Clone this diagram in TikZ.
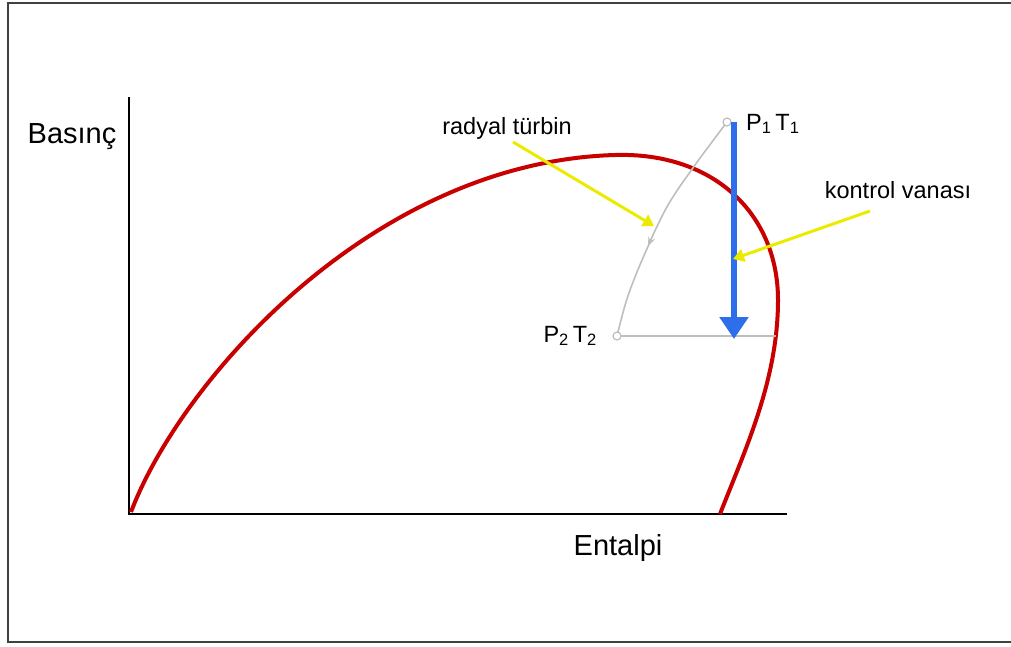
\documentclass[tikz,border=0pt]{standalone}
\usepackage{fontspec}
\setmainfont{Liberation Sans}
\usetikzlibrary{arrows.meta}
\definecolor{satred}{RGB}{200,0,0}
\definecolor{arrblue}{RGB}{45,110,235}
\definecolor{yel}{RGB}{235,235,0}
\definecolor{procgray}{RGB}{190,190,190}
\begin{document}
\begin{tikzpicture}[x=1pt,y=-1pt,
  frame/.style={draw=black!75,line width=2pt},
  axis/.style={draw=black,line width=2pt},
  sat/.style={draw=satred,line width=4pt},
  proc/.style={draw=procgray,line width=1.6pt},
  statept/.style={circle,draw=procgray,fill=white,line width=1.2pt,inner sep=0pt,minimum size=8pt},
  bigtxt/.style={font=\fontsize{29}{32}\selectfont,inner sep=0pt},
  smalltxt/.style={font=\fontsize{23.5}{26}\selectfont,inner sep=0pt},
  yarrow/.style={draw=yel,line width=3pt,-{Triangle[length=11pt,width=13pt]}},
  barrow/.style={draw=arrblue,line width=6pt,-{Triangle[length=22pt,width=28pt]}}]
\useasboundingbox (0,0) rectangle (1011,646);
% frame (left, top, bottom)
\draw[frame] (1011,3) -- (8,3) -- (8,642) -- (1011,642);
% axes
\coordinate (O) at (129,514);
\coordinate (Ytop) at (129,97);
\coordinate (Xend) at (787,514);
\draw[axis] (Ytop) -- (O) -- (Xend);
\node[bigtxt] (basinc) at (72,137) {Basınç};
\node[bigtxt] (entalpi) at (618,548) {Entalpi};
% saturation dome
\coordinate (S0) at (131,512);
\coordinate (Top) at (615,155);
\coordinate (Right) at (778,300);
\coordinate (S1) at (720,514);
\draw[sat] (S0) .. controls (180,382) and (372,162) .. (Top)
  .. controls (715,152) and (778,215) .. (Right)
  .. controls (778,380) and (745,450) .. (S1);
% process states
\coordinate (P1) at (727,122);
\coordinate (P2) at (617,336);
\coordinate (H) at (776,336);
\draw[proc,-{Stealth[open,length=9pt,width=7pt]}] plot[smooth,tension=0.6] coordinates {(727,122) (695,165) (668,205) (648,246)};
\draw[proc] plot[smooth,tension=0.6] coordinates {(650,242) (637,272) (626,302) (617,336)};
\draw[proc] (P2) -- (H);
\node[statept] (p1pt) at (P1) {};
\node[statept] (p2pt) at (P2) {};
% control valve throttling
\coordinate (B1) at (734,122);
\coordinate (B2) at (734,339);
\draw[barrow] (B1) -- (B2);
% labels
\node[smalltxt,anchor=west] (p1lab) at (746,124) {P\textsubscript{1}\,T\textsubscript{1}};
\node[smalltxt,anchor=east] (p2lab) at (597,336) {P\textsubscript{2}\,T\textsubscript{2}};
\node[smalltxt] (radyal) at (507,128) {radyal türbin};
\node[smalltxt] (kontrol) at (898,190) {kontrol vanası};
\coordinate (RA) at (513,142);
\coordinate (RB) at (654,226);
\coordinate (KA) at (870,211);
\coordinate (KB) at (733,259);
\draw[yarrow] (RA) -- (RB);
\draw[yarrow] (KA) -- (KB);
\end{tikzpicture}
\end{document}
